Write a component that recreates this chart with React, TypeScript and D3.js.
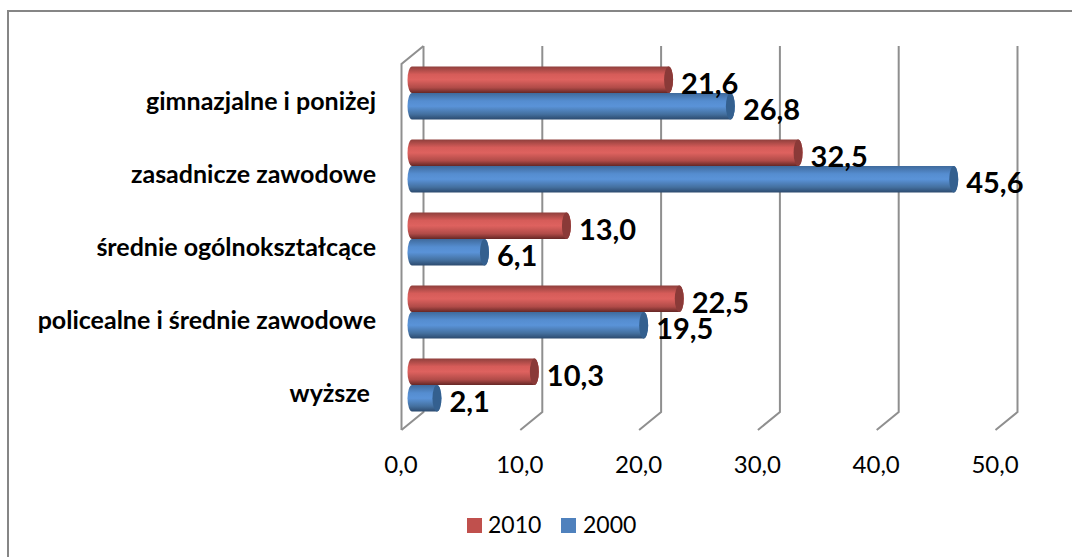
import React from 'react';
import * as d3 from 'd3';

const categories = ['gimnazjalne i poniżej', 'zasadnicze zawodowe', 'średnie ogólnokształcące', 'policealne i średnie zawodowe', 'wyższe '];
const values2010 = [21.6, 32.5, 13.0, 22.5, 10.3];
const values2000 = [26.8, 45.6, 6.1, 19.5, 2.1];
const ticks = [0, 10, 20, 30, 40, 50];

const fmt = (v: number) => v.toFixed(1).replace('.', ',');

const FONT = 'Lato, Carlito, sans-serif';
const GRID = '#8f8f8f';

// back wall of the 3d plot, the floor runs from here to the front
const wallX = d3.scaleLinear().domain([0, 50]).range([423.5, 1017.5]);
const barX = d3.scaleLinear().domain([0, 50]).range([412, 1006]);
const bandY = d3.scaleBand<string>().domain(categories).range([56.5, 421.5]);
const wallTop = 46;
const wallBottom = 412;
const depthX = -22;
const depthY = 18;
const barH = 26.5;
const capRx = 4.5;

const series = [
  { name: '2010', values: values2010, offset: 0, id: 'red', swatch: '#c0504d', cap: '#8a3a38', stops: ['#8f3f3c', '#d65c59', '#de625f', '#b04b48', '#652725'] },
  { name: '2000', values: values2000, offset: 1, id: 'blue', swatch: '#4f81bd', cap: '#34608f', stops: ['#3f6a9c', '#558dd0', '#5a93d8', '#44709f', '#2c4a6e'] },
];

const barTop = (c: string, offset: number) => bandY(c)! + (bandY.bandwidth() - 2 * barH) / 2 + offset * barH;

const Bar = ({ v, y, s }: { v: number; y: number; s: (typeof series)[number] }) => {
  const x1 = barX(v);
  const x0 = barX(0);
  const r = barH / 2;
  const d = `M${x0},${y}L${x1},${y}A${capRx},${r} 0 0 1 ${x1},${y + barH}L${x0},${y + barH}A${capRx},${r} 0 0 1 ${x0},${y}Z`;
  return (
    <g>
      <path d={d} fill={`url(#${s.id})`} />
      <ellipse cx={x1} cy={y + r} rx={capRx} ry={r} fill={s.cap} />
    </g>
  );
};

export default function App() {
  return (
    <svg width={1072} height={557} style={{ position: 'absolute', left: 0, top: 0 }} fontFamily={FONT}>
      <defs>
        {series.map(s => (
          <linearGradient key={s.id} id={s.id} x1="0" x2="0" y1="0" y2="1">
            {s.stops.map((c, i) => (
              <stop key={i} offset={[0, 0.3, 0.5, 0.8, 1][i]} stopColor={c} />
            ))}
          </linearGradient>
        ))}
      </defs>
      <rect width={1072} height={557} fill="#fff" />
      <path d="M8,557V11H1072" fill="none" stroke="#868686" strokeWidth={2} />

      {/* back wall gridlines with their floor segment */}
      {ticks.map(t => (
        <path
          key={t}
          d={`M${wallX(t)},${wallTop}V${wallBottom}l${depthX},${depthY}`}
          fill="none"
          stroke={GRID}
          strokeWidth={2}
        />
      ))}
      <path
        d={`M${wallX(0)},${wallTop}l${depthX},${depthY}V${wallBottom + depthY}`}
        fill="none"
        stroke={GRID}
        strokeWidth={2}
      />

      {categories.map((c, i) => (
        <g key={c}>
          {series.map(s => (
            <Bar key={s.id} v={s.values[i]} y={barTop(c, s.offset)} s={s} />
          ))}
        </g>
      ))}

      {categories.map(c => (
        <text key={c} x={376} y={bandY(c)! + bandY.bandwidth() / 2 + 17} textAnchor="end" fontSize={25} fontWeight={700} fill="#000" style={{ whiteSpace: 'pre' }}>
          {c}
        </text>
      ))}

      {categories.map((c, i) =>
        series.map(s => (
          <text
            key={s.id}
            x={barX(s.values[i]) + capRx + 8}
            y={barTop(c, s.offset) + 27}
            fontSize={29}
            fontWeight={700}
            fill="#000"
          >
            {fmt(s.values[i])}
          </text>
        ))
      )}

      {ticks.map(t => (
        <text key={t} x={wallX(t) + depthX - 0.5} y={473} textAnchor="middle" fontSize={24} fill="#000">
          {fmt(t)}
        </text>
      ))}

      <rect x={467} y={518} width={15} height={15} fill={series[0].swatch} />
      <text x={488} y={533} fontSize={23} fill="#000">{series[0].name}</text>
      <rect x={561} y={518} width={15} height={15} fill={series[1].swatch} />
      <text x={583} y={533} fontSize={23} fill="#000">{series[1].name}</text>
    </svg>
  );
}
